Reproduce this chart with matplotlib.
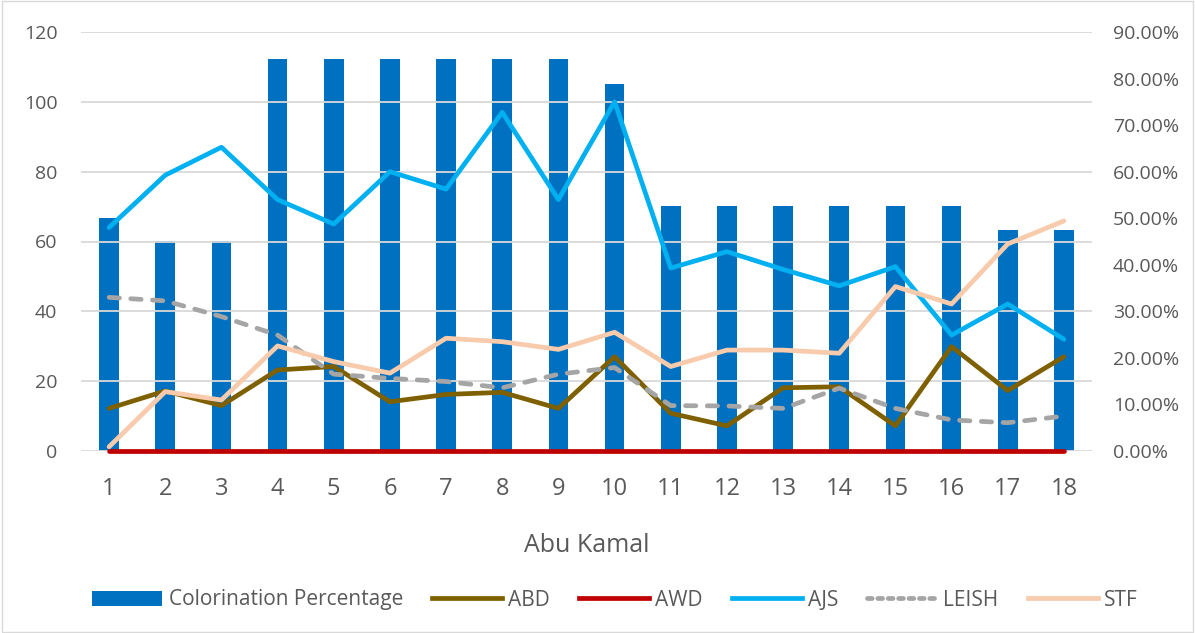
import matplotlib
matplotlib.use("Agg")
import matplotlib.pyplot as plt
from matplotlib.lines import Line2D
from matplotlib.patches import Patch, Rectangle
from matplotlib.ticker import FuncFormatter

plt.rcParams['font.family'] = ['Open Sans', 'DejaVu Sans']

categories = [str(i) for i in range(1, 19)]
coloration = [0.50, 0.45, 0.45, 0.842, 0.842, 0.842, 0.842, 0.842, 0.842, 0.789,
              0.526, 0.526, 0.526, 0.526, 0.526, 0.526, 0.474, 0.474]
abd = [12.2, 17.2, 13, 23.2, 24.2, 14.1, 16.2, 16.8, 12.2, 27, 10.8, 7.2, 18.1, 18.4, 7.2, 29.9, 17.3, 27]
awd = [0] * 18
ajs = [64, 79, 87, 72, 65, 80, 75, 97, 72, 100, 52.4, 57.1, 52, 47.3, 52.8, 33.2, 42.1, 32]
leish = [44, 43, 38.5, 33.2, 22, 20.8, 19.9, 18.1, 22, 23.9, 13, 12.9, 12.2, 18, 12.2, 8.9, 8.1, 10]
stf = [1.2, 17, 14.6, 30.1, 25.6, 22.3, 32.3, 31.3, 29.1, 34, 24.2, 28.9, 28.9, 28, 47.1, 42.1, 59.3, 65.9]

x = list(range(1, 19))
txt = '#595959'
grid = '#D9D9D9'
LW = 3.4

fig = plt.figure(figsize=(11.95, 6.33), dpi=100)
ax = fig.add_axes([81/1195, 1-451/633, (1092-81)/1195, (451-32)/633])
ax2 = ax.twinx()

# bars on primary axis (percent), shown on right side
ax.bar(x, coloration, width=0.35, color='#0070C0', zorder=2)
ax.set_ylim(0, 0.9)
ax.set_yticks([i * 0.1 for i in range(10)])
ax.yaxis.set_major_formatter(FuncFormatter(lambda v, p: f"{v*100:.2f}%"))
ax.yaxis.tick_right()
ax.set_xlim(0.5, 18.5)
ax.set_xticks(x)
ax.set_xticklabels(categories)

# lines on twin axis, shown on left side
ax2.plot(x, abd, color='#7F6000', lw=LW, solid_capstyle='round', zorder=3)
ax2.plot(x, awd, color='#C00000', lw=LW, solid_capstyle='round', zorder=3, clip_on=False)
ax2.plot(x, ajs, color='#00B0F0', lw=LW, solid_capstyle='round', zorder=3)
ax2.plot(x, leish, color='#A5A5A5', lw=LW, dashes=(2.2, 2.4), dash_capstyle='round', zorder=3)
ax2.plot(x, stf, color='#F8CBAD', lw=LW, solid_capstyle='round', zorder=3)
ax2.set_ylim(0, 120)
ax2.set_yticks(range(0, 121, 20))
ax2.yaxis.tick_left()

# gridlines (aligned for both axes)
for v in range(0, 121, 20):
    ax2.axhline(v, color=grid, lw=1.3, zorder=0)
ax.set_axisbelow(True)

for a in (ax, ax2):
    for s in a.spines.values():
        s.set_visible(False)
    a.tick_params(length=0, colors=txt)

ax.tick_params(axis='y', labelsize=14, pad=15, labelcolor=txt)
ax2.tick_params(axis='y', labelsize=14, pad=17, labelcolor=txt)
ax.tick_params(axis='x', labelsize=17, pad=19, labelcolor=txt)
fig.text((81 + 1092) / 2 / 1195, 1 - 545/633, 'Abu Kamal', fontsize=18, color=txt,
         ha='center', va='center')

handles = [
    Patch(facecolor='#0070C0', label='Colorination Percentage'),
    Line2D([], [], color='#7F6000', lw=LW, label='ABD'),
    Line2D([], [], color='#C00000', lw=LW, label='AWD'),
    Line2D([], [], color='#00B0F0', lw=LW, label='AJS'),
    Line2D([], [], color='#A5A5A5', lw=LW, dashes=(1.0, 1.2), dash_capstyle='round', label='LEISH'),
    Line2D([], [], color='#F8CBAD', lw=LW, label='STF'),
]
leg = fig.legend(handles=handles, loc='center', bbox_to_anchor=(615/1195, 1-600/633), ncol=6,
                 frameon=False, fontsize=15, handlelength=3.35, handletextpad=0.3,
                 columnspacing=1.4, labelcolor=txt, handleheight=0.7)

fig.patches.append(Rectangle((0.002, 0.002), 0.996, 0.996, transform=fig.transFigure,
                             fill=False, edgecolor='#D9D9D9', lw=1))

fig.savefig('out.png', dpi=100)
